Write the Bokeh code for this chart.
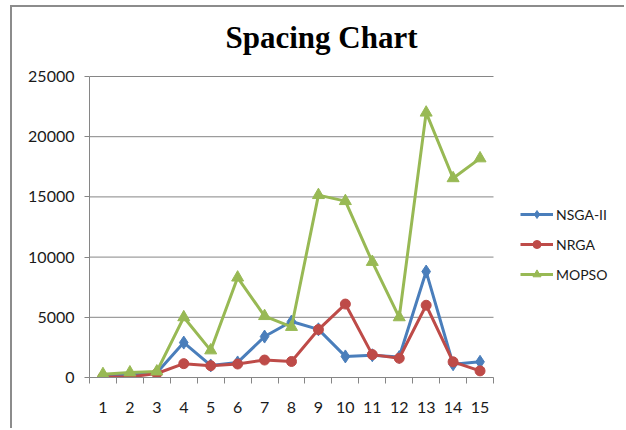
from bokeh.plotting import figure
from bokeh.models import Range1d, FixedTicker, Legend, LegendItem, Label
from bokeh.embed import file_html
from bokeh.resources import INLINE

# Spacing metric per run (runs 1..15)
runs = list(range(1, 16))
nsga2 = [100, 200, 400, 2900, 1000, 1250, 3400, 4650, 4000, 1750, 1850, 1700, 8800, 1100, 1300]
nrga = [50, 50, 330, 1150, 980, 1120, 1450, 1330, 3980, 6100, 1900, 1600, 6000, 1300, 550]
mopso = [280, 420, 500, 5000, 2250, 8300, 5100, 4200, 15150, 14650, 9600, 5000, 22000, 16550, 18200]

series_names = ["NSGA-II", "NRGA", "MOPSO"]
y_ticks = [0, 5000, 10000, 15000, 20000, 25000]

GRID = "#868686"
TEXT = "#1a1a1a"
LABEL_FONT = "Lato"

# The plotting frame fills the canvas to the right and top so that the title
# and legend can sit inside it; axis lines and grid lines stop at the data area.
x_lo, x_hi = 0.5, 15.5
y_lo, y_hi = 0, 25000
px_per_run = 404 / 15
x_end = x_lo + (626 - 89) / px_per_run
y_end = y_hi * (377 - 7) / 301

p = figure(
    width=614, height=423,
    x_range=Range1d(x_lo, x_end), y_range=Range1d(y_lo, y_end),
    output_backend="svg", toolbar_location=None,
    min_border_left=77, min_border_top=0, min_border_right=0, min_border_bottom=53,
    margin=(5, 0, 0, 10),
    styles={"border-left": "2px solid #8c8c8c", "border-top": "2px solid #8c8c8c"},
)
p.outline_line_color = None
p.background_fill_color = "white"
p.border_fill_color = "white"

# x axis: labels at run centres, tick marks on run boundaries
p.xaxis.ticker = FixedTicker(ticks=runs, minor_ticks=[r + 0.5 for r in range(0, 16)])
p.xaxis.bounds = (x_lo, x_hi)
p.xaxis.major_tick_line_color = None
p.xaxis.major_tick_out = 0
p.xaxis.major_tick_in = 0
p.xaxis.minor_tick_line_color = GRID
p.xaxis.minor_tick_out = 6
p.xaxis.minor_tick_in = 0
p.xaxis.axis_line_color = GRID
p.xaxis.major_label_standoff = 18
p.xaxis.major_label_text_font = LABEL_FONT
p.xaxis.major_label_text_font_size = "16px"
p.xaxis.major_label_text_color = TEXT

p.yaxis.ticker = FixedTicker(ticks=y_ticks)
p.yaxis.bounds = (y_lo, y_hi)
p.yaxis.minor_tick_line_color = None
p.yaxis.major_tick_line_color = GRID
p.yaxis.major_tick_out = 5
p.yaxis.major_tick_in = 0
p.yaxis.axis_line_color = GRID
p.yaxis.major_label_standoff = 10
p.yaxis.major_label_text_font = LABEL_FONT
p.yaxis.major_label_text_font_size = "16px"
p.yaxis.major_label_text_color = TEXT

p.xgrid.grid_line_color = None
p.ygrid.grid_line_color = None

# horizontal grid lines across the data area only
p.segment(x0=[x_lo] * len(y_ticks), y0=y_ticks, x1=[x_hi] * len(y_ticks), y1=y_ticks,
          line_color=GRID, line_width=1)

styles = [
    ("#4a7ebb", nsga2, "diamond", 13),
    ("#be4b48", nrga, "circle", 10),
    ("#98b954", mopso, "triangle", 12),
]

items = []
for name, (color, vals, marker, size) in zip(series_names, styles):
    ln = p.line(runs, vals, line_color=color, line_width=3)
    sc = p.scatter(runs, vals, marker=marker, size=size, fill_color=color, line_color=color)
    items.append(LegendItem(label=name, renderers=[ln, sc]))

legend = Legend(
    items=items, location=(431, 93),
    glyph_width=33, glyph_height=20, label_height=20, spacing=10,
    label_standoff=3, padding=0, margin=0,
    border_line_color=None, background_fill_alpha=0,
    label_text_font=LABEL_FONT, label_text_font_size="14px", label_text_color=TEXT,
)
p.add_layout(legend, "center")

title = Label(
    x=136, y=340, x_units="screen", y_units="screen",
    text="Spacing Chart", text_align="left", text_baseline="alphabetic",
    text_font="Liberation Serif", text_font_style="bold", text_font_size="31px",
    text_color="black",
)
p.add_layout(title)

open("out.html", "w").write(file_html(p, INLINE))
